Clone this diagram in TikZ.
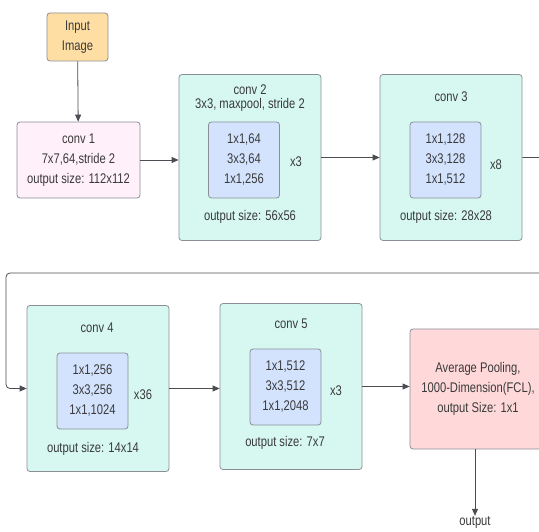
\documentclass[tikz,border=0pt]{standalone}
\usepackage{fontspec}
\setmainfont{Liberation Sans}[FakeStretch=0.8]
\usetikzlibrary{arrows.meta}
\definecolor{edge}{HTML}{8A8F96}
\definecolor{ink}{HTML}{3A3A3A}
\definecolor{wire}{HTML}{4A4D52}
\definecolor{stagefill}{HTML}{D6F8F1}
\definecolor{blockfill}{HTML}{D3E3FE}
\definecolor{inputfill}{HTML}{FFDEA3}
\definecolor{convfill}{HTML}{FFF0FA}
\definecolor{poolfill}{HTML}{FFD9D9}
\tikzset{
  box/.style={draw=edge, line width=0.8pt, rounded corners=3pt, inner sep=0pt},
  stagebox/.style={box, fill=stagefill, minimum width=142pt, minimum height=166pt},
  blockbox/.style={box, fill=blockfill, minimum width=71pt, minimum height=76pt,
    align=center, font=\fontsize{14}{20}\selectfont, text=ink},
  lbl/.style={font=\fontsize{14}{20}\selectfont, text=ink, align=center, inner sep=0pt},
  wireline/.style={draw=wire, line width=0.8pt, -{Triangle[length=7pt,width=6pt]}},
}
\begin{document}
\begin{tikzpicture}[x=1pt,y=-1pt]
\useasboundingbox (0,0) rectangle (539,532);
\clip (0,0) rectangle (539,532);

% input and first convolution
\node[box, fill=inputfill, minimum width=61pt, minimum height=48pt, lbl] (input) at (77.5,37) {Input\\Image};
\node[box, fill=convfill, minimum width=123pt, minimum height=76pt, lbl] (conv1) at (78.5,160)
  {conv 1\\7x7,64,stride 2\\output size: 112x112};

% conv 2 stage
\node[stagebox] (conv2) at (250,157.5) {};
\node[lbl] (c2title) at (250,90) {conv 2};
\node[lbl] (c2sub) at (250,105) {3x3, maxpool, stride 2};
\node[blockbox] (c2block) at (244,160) {1x1,64\\3x3,64\\1x1,256};
\node[lbl] (c2rep) at (296,162) {x3};
\node[lbl] (c2out) at (250,217) {output size: 56x56};

% conv 3 stage
\node[stagebox] (conv3) at (451,157.5) {};
\node[lbl] (c3title) at (451,97) {conv 3};
\node[blockbox] (c3block) at (445.5,160) {1x1,128\\3x3,128\\1x1,512};
\node[lbl] (c3rep) at (496,164.5) {x8};
\node[lbl] (c3out) at (446,217) {output size: 28x28};

% conv 4 stage
\node[stagebox] (conv4) at (98,388.5) {};
\node[lbl] (c4title) at (97,328) {conv 4};
\node[blockbox] (c4block) at (92.5,391) {1x1,256\\3x3,256\\1x1,1024};
\node[lbl] (c4rep) at (143,395) {x36};
\node[lbl] (c4out) at (93,449) {output size: 14x14};

% conv 5 stage
\node[stagebox] (conv5) at (291,386.5) {};
\node[lbl] (c5title) at (291,324) {conv 5};
\node[blockbox] (c5block) at (285.5,387) {1x1,512\\3x3,512\\1x1,2048};
\node[lbl] (c5rep) at (336,391) {x3};
\node[lbl] (c5out) at (285,443) {output size: 7x7};

% pooling and output
\node[box, fill=poolfill, minimum width=136pt, minimum height=120pt, lbl] (pool) at (478,389)
  {Average Pooling,\\1000-Dimension(FCL),\\output Size: 1x1};
\node[lbl] (out) at (475,522) {output};

% connectors
\draw[wireline] (input) -- (conv1);
\draw[wireline] (conv1.east) -- (conv1.east -| conv2.west);
\draw[wireline] (conv2) -- (conv3);
\coordinate (wrap) at (556,273);
\draw[wireline, rounded corners=4pt] (conv3.east) -| (wrap) -- (6,273) |- (conv4.west);
\draw[wireline] (conv4.east) -- (conv4.east -| conv5.west);
\draw[wireline] (conv5.east) -- (conv5.east -| pool.west);
\draw[wireline] (pool.south -| out) -- (out.north);
\end{tikzpicture}
\end{document}
